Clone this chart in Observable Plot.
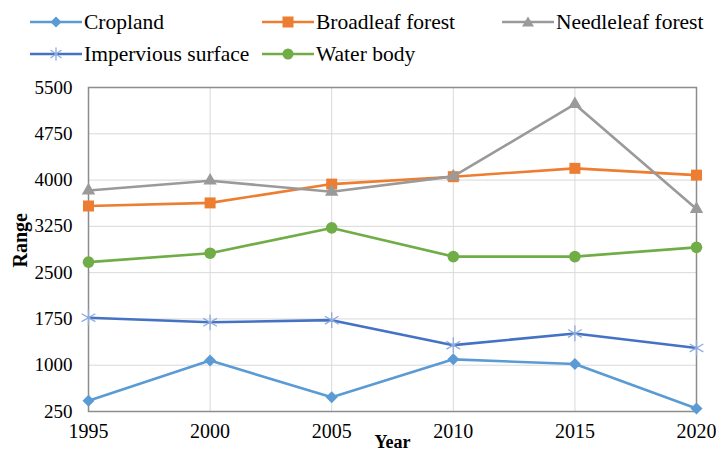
<!DOCTYPE html>
<html>
<head>
<meta charset="utf-8">
<script src="https://cdn.jsdelivr.net/npm/d3@7"></script>
<script src="https://cdn.jsdelivr.net/npm/@observablehq/plot@0.6"></script>
<style>
  html, body { margin: 0; padding: 0; background: #fff; }
  #wrap { width: 716px; height: 452px; position: relative; overflow: hidden; font-family: "Liberation Serif", "Times New Roman", serif; }
  #legend { position: relative; width: 716px; height: 75px; }
  .item { position: absolute; display: flex; align-items: center; font-size: 21.5px; color: #000; white-space: nowrap; }
  .item svg { display: block; margin-right: 2px; }
  #chart svg { display: block; }
</style>
</head>
<body>
<div id="wrap">
  <div id="legend"></div>
  <div id="chart"></div>
</div>
<script>
const years = [1995, 2000, 2005, 2010, 2015, 2020];
const seriesNames = ["Cropland", "Broadleaf forest", "Needleleaf forest", "Impervious surface", "Water body"];
const cropland   = [425, 1075, 480, 1095, 1020, 300];
const broadleaf  = [3580, 3630, 3935, 4055, 4190, 4080];
const needleleaf = [3830, 3990, 3810, 4060, 5230, 3530];
const impervious = [1770, 1695, 1730, 1325, 1515, 1280];
const water      = [2670, 2815, 3225, 2760, 2760, 2910];
const yTicks = [250, 1000, 1750, 2500, 3250, 4000, 4750, 5500];

const lineColors   = ["#5B9BD5", "#ED7D31", "#9A9A9A", "#4472C4", "#70AD47"];
const markerColors = ["#5B9BD5", "#ED7D31", "#9A9A9A", "#8FAADC", "#70AD47"];
const symbols = ["diamond2", "square2", "triangle2", "asterisk", "circle"];
const radii = [5.4, 7.0, 6.4, 7.5, 5.8];

const valuesList = [cropland, broadleaf, needleleaf, impervious, water];
const data = [];
seriesNames.forEach((s, i) => {
  years.forEach((yr, j) => data.push({series: s, year: yr, value: valuesList[i][j]}));
});

// legend (HTML)
const legendPos = [
  {left: 30, top: 22}, {left: 262, top: 22}, {left: 502, top: 22},
  {left: 30, top: 54}, {left: 262, top: 54}
];
const legendEl = document.getElementById("legend");
seriesNames.forEach((s, i) => {
  const div = document.createElement("div");
  div.className = "item";
  div.style.left = legendPos[i].left + "px";
  div.style.top = (legendPos[i].top - 13) + "px";
  div.style.height = "26px";
  let markerSvg = "";
  const cx = 26, cy = 13;
  const c = markerColors[i];
  if (symbols[i] === "diamond2") markerSvg = `<path d="M${cx},${cy-5.5} L${cx+5.5},${cy} L${cx},${cy+5.5} L${cx-5.5},${cy} Z" fill="${c}"/>`;
  else if (symbols[i] === "square2") markerSvg = `<rect x="${cx-5.5}" y="${cy-5.5}" width="11" height="11" fill="${c}"/>`;
  else if (symbols[i] === "triangle2") markerSvg = `<path d="M${cx},${cy-5.5} L${cx+6},${cy+4.5} L${cx-6},${cy+4.5} Z" fill="${c}"/>`;
  else if (symbols[i] === "asterisk") markerSvg = `<g stroke="${c}" stroke-width="1.3"><line x1="${cx}" y1="${cy-6.5}" x2="${cx}" y2="${cy+6.5}"/><line x1="${cx-5.5}" y1="${cy-4}" x2="${cx+5.5}" y2="${cy+4}"/><line x1="${cx-5.5}" y1="${cy+4}" x2="${cx+5.5}" y2="${cy-4}"/></g>`;
  else markerSvg = `<circle cx="${cx}" cy="${cy}" r="5.5" fill="${c}"/>`;
  div.innerHTML = `<svg width="52" height="26"><line x1="0" y1="13" x2="52" y2="13" stroke="${lineColors[i]}" stroke-width="2.6"/>${markerSvg}</svg><span>${s}</span>`;
  legendEl.appendChild(div);
});

const chart = Plot.plot({
  width: 716,
  height: 377,
  marginLeft: 88,
  marginRight: 20,
  marginTop: 12,
  marginBottom: 41,
  style: {fontFamily: "'Liberation Serif', 'Times New Roman', serif", fontSize: "19px", color: "#000", background: "#fff", overflow: "visible"},
  x: {domain: [1995, 2020]},
  y: {domain: [250, 5500]},
  marks: [
    Plot.gridX(years.slice(1, -1), {stroke: "#d9d9d9", strokeOpacity: 1, strokeWidth: 1}),
    Plot.gridY(yTicks.slice(1, -1), {stroke: "#d9d9d9", strokeOpacity: 1, strokeWidth: 1}),
    Plot.frame({stroke: "#8c8c8c", strokeWidth: 1.5}),
    Plot.axisX({ticks: years, tickSize: 0, tickPadding: 12, tickFormat: d => String(d), fontSize: 20, label: null}),
    Plot.axisY({ticks: yTicks, tickSize: 0, tickPadding: 16, tickFormat: d => String(d), fontSize: 19, label: null}),
    Plot.text(["Year"], {frameAnchor: "bottom", lineAnchor: "bottom", dy: 36, fontWeight: "bold", fontSize: 18}),
    Plot.text(["Range"], {frameAnchor: "left", rotate: -90, dx: -68, dy: 18, fontWeight: "bold", fontSize: 20}),
    ...seriesNames.map((s, i) => [
      Plot.line(data.filter(d => d.series === s), {x: "year", y: "value", stroke: lineColors[i], strokeWidth: 2.6}),
      Plot.dot(data.filter(d => d.series === s), {x: "year", y: "value", symbol: symbols[i], r: radii[i],
        fill: symbols[i] === "asterisk" ? "none" : markerColors[i],
        stroke: symbols[i] === "asterisk" ? markerColors[i] : "none",
        strokeWidth: 1.3})
    ]).flat()
  ]
});
document.getElementById("chart").appendChild(chart);
</script>
</body>
</html>
